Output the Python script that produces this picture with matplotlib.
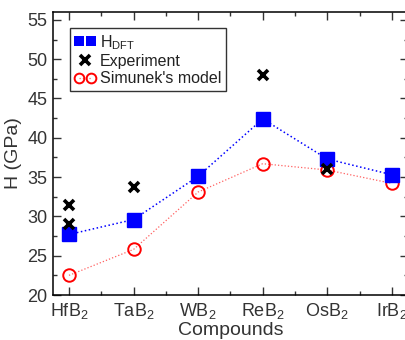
import numpy as np
import matplotlib
matplotlib.use('Agg')
import matplotlib.pyplot as plt
from matplotlib.ticker import MultipleLocator
from matplotlib.lines import Line2D
from matplotlib.legend_handler import HandlerLine2D

# ==========================================
# DATA
# ==========================================
compounds = ['HfB$_2$', 'TaB$_2$', 'WB$_2$', 'ReB$_2$', 'OsB$_2$', 'IrB$_2$']
h_dft = [27.7, 29.6, 35.1, 42.4, 37.3, 35.3]
simunek = [22.5, 25.8, 33.1, 36.7, 35.9, 34.2]
# experiment points: (compound index, hardness)
exp_idx = [0, 0, 1, 3, 4]
exp_val = [31.5, 29.0, 33.7, 48.0, 36.0]

plt.rcParams['font.family'] = ['Liberation Sans', 'DejaVu Sans']
plt.rcParams['mathtext.fontset'] = 'custom'
plt.rcParams['mathtext.rm'] = 'Liberation Sans'
plt.rcParams['mathtext.it'] = 'Liberation Sans:italic'

fig = plt.figure(figsize=(4.06, 3.40), dpi=100)
ax = fig.add_axes([52.85 / 406, 45 / 340, 355.15 / 406, 283 / 340])

x = np.arange(len(compounds))

ax.plot(x, simunek, color='#ff6060', linestyle=':', linewidth=0.9,
        marker='o', markersize=9, markerfacecolor='none',
        markeredgecolor='red', markeredgewidth=1.4, zorder=2)
ax.plot(x, h_dft, color='blue', linestyle=':', linewidth=1.1,
        marker='s', markersize=10, markerfacecolor='blue',
        markeredgecolor='blue', zorder=3)
ax.plot(exp_idx, exp_val, linestyle='none', marker='x', markersize=7,
        markeredgewidth=2.6, color='black', zorder=4)

ax.set_xlim(-0.25, 5.25)
ax.set_ylim(20, 56)
ax.set_xticks(x)
ax.set_xticklabels(compounds)
ax.xaxis.set_minor_locator(MultipleLocator(0.5))
ax.yaxis.set_major_locator(MultipleLocator(5))
ax.yaxis.set_minor_locator(MultipleLocator(2.5))
ax.tick_params(which='both', direction='in', top=True, right=True,
               labelsize=13, colors='#333333')
ax.tick_params(which='major', length=6, width=1, pad=4)
ax.tick_params(which='minor', length=3, width=1)
for s in ax.spines.values():
    s.set_linewidth(1.1)

ax.set_xlabel('Compounds', fontsize=14, color='#333333', labelpad=1)
ax.set_ylabel('H (GPa)', fontsize=14, color='#333333', labelpad=4)

# legend proxies
h1 = Line2D([], [], linestyle='none', marker='s', markersize=7,
            markeredgewidth=0, color='blue')
h2 = Line2D([], [], linestyle='none', marker='x', markersize=7,
            markeredgewidth=2.6, color='black')
h3 = Line2D([], [], linestyle=':', linewidth=0.9, color='#ff6060',
            marker='o', markersize=7, markerfacecolor='none',
            markeredgecolor='red', markeredgewidth=1.4)
leg = ax.legend([h1, h2, h3],
                ['H$_{\\mathrm{DFT}}$', 'Experiment', "Simunek's model"],
                handler_map={h1: HandlerLine2D(numpoints=2, marker_pad=0.25),
                             h2: HandlerLine2D(numpoints=1),
                             h3: HandlerLine2D(numpoints=2, marker_pad=0.25)},
                loc='upper left', bbox_to_anchor=(0.048, 0.943),
                borderaxespad=0, fontsize=11.5, fancybox=False,
                handlelength=1.3, handletextpad=0.3, borderpad=0.3,
                labelspacing=0.15, edgecolor='#333333', framealpha=1)
leg.get_frame().set_linewidth(1.0)
for t in leg.get_texts():
    t.set_color('#222222')

plt.savefig('out.png', dpi=100)
